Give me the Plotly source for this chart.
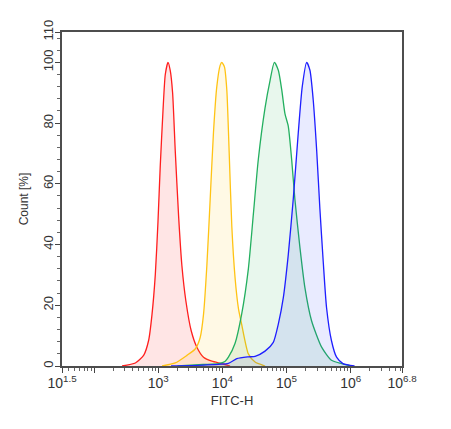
import plotly.graph_objects as go

# FITC-H histograms, counts normalised to the peak (%)
red_x = [273, 440, 592, 708, 800, 900, 991, 1076, 1186, 1288, 1419, 1538, 1675,
         1841, 2075, 2339, 2698, 3266, 4000, 5082, 6855, 9772, 13183]
red_y = [0, 1, 3.5, 8.4, 17, 30, 47.4, 66, 84, 96, 100, 97.4, 90,
         71, 49.6, 33, 21.4, 11.6, 6.2, 2.9, 1.6, 0.8, 0]

yellow_x = [1148, 1841, 2800, 3767, 4508, 5082, 5728, 6457, 7261, 8185, 9226, 9795,
            10765, 11722, 12735, 14028, 15776, 17783, 19953, 25410, 32359, 46238]
yellow_y = [0, 1, 3.5, 5.6, 9.4, 17, 33, 55, 76.8, 92, 99, 100,
            98.5, 91, 71, 46, 29, 19, 13.8, 4, 1.3, 0]

green_x = [1995, 5012, 8710, 10965, 12417, 15776, 19953, 25410, 30409, 36308, 46238,
           55335, 64565, 74473, 84140, 94624, 106414, 120226, 134896, 162181,
           193642, 245471, 352371, 501187, 724436, 1023293]
green_y = [0, 0.5, 0.8, 1.5, 2.9, 7.5, 17, 32, 50, 68, 85,
           94, 100, 97.4, 91, 83, 79, 68, 55, 38.8,
           25.7, 14.9, 6.2, 1.9, 0.8, 0]

blue_x = [1585, 5012, 12417, 16788, 25410, 32359, 46238, 62230, 74473, 89125, 106414,
          127350, 152405, 175792, 206063, 231739, 260615, 295121, 331131, 373250,
          420727, 501187, 602560, 758578, 1148154]
blue_y = [0, 0.3, 0.9, 2.4, 3, 3.2, 4.9, 7.8, 13.8, 22.5, 36.6,
          55, 76.8, 92, 100, 97.4, 87.6, 71, 51.8, 34.4,
          19.2, 8.4, 2.9, 0.8, 0]

x_tickvals = [10 ** 1.5, 100, 1000, 10000, 100000, 1000000, 10 ** 6.8]
x_ticktext = ["10<sup>1.5</sup>", "", "10<sup>3</sup>", "10<sup>4</sup>",
              "10<sup>5</sup>", "10<sup>6</sup>", "10<sup>6.8</sup>"]
x_minor = [m * 10 ** d for d in range(1, 7) for m in range(2, 10)
           if 10 ** 1.5 < m * 10 ** d < 10 ** 6.8]
y_tickvals = [0, 20, 40, 60, 80, 100, 110]

series = [
    (red_x, red_y, "rgb(255,30,30)", "rgba(255,0,0,0.1)"),
    (yellow_x, yellow_y, "rgb(255,195,20)", "rgba(255,192,0,0.1)"),
    (green_x, green_y, "rgb(35,175,95)", "rgba(30,180,80,0.1)"),
    (blue_x, blue_y, "rgb(30,30,255)", "rgba(40,60,255,0.1)"),
]

fig = go.Figure()
for xs, ys, col, fillcol in series:
    fig.add_trace(go.Scatter(
        x=xs, y=ys, mode="lines",
        line=dict(color=col, width=1.3, shape="spline", smoothing=0.6),
        fill="tozeroy", fillcolor=fillcol,
        showlegend=False, hoverinfo="skip",
    ))

base_font = dict(family="Liberation Sans, Arial, sans-serif", size=12, color="#333333")
xtick_font = dict(family="Liberation Sans, Arial, sans-serif", size=14, color="#333333")

# the page body adds an 8px offset, so margins are trimmed to match
fig.update_layout(
    width=435, height=410,
    margin=dict(l=54, r=41, t=23, b=48),
    plot_bgcolor="white", paper_bgcolor="white",
    font=base_font,
    xaxis=dict(
        type="log", range=[1.5, 6.8],
        tickmode="array", tickvals=x_tickvals, ticktext=x_ticktext,
        ticks="outside", ticklen=5, tickwidth=1, tickcolor="#444444",
        minor=dict(tickmode="array", tickvals=x_minor, ticks="outside",
                   ticklen=3, tickwidth=1, tickcolor="#666666"),
        showgrid=False, zeroline=False,
        showline=True, linecolor="#4d4d4d", linewidth=1.5, mirror=True,
        title=dict(text="FITC-H", standoff=6, font=dict(base_font, size=13)),
        tickfont=xtick_font, ticklabelstandoff=-2,
    ),
    yaxis=dict(
        range=[0, 110],
        tickmode="array", tickvals=y_tickvals,
        tickangle=-90,
        ticks="outside", ticklen=5, tickwidth=1, tickcolor="#444444",
        minor=dict(tickmode="linear", tick0=0, dtick=4, ticks="outside",
                   ticklen=3, tickwidth=1, tickcolor="#666666"),
        showgrid=False, zeroline=False,
        showline=True, linecolor="#4d4d4d", linewidth=1.5, mirror=True,
        title=dict(text="Count [%]", standoff=10, font=base_font),
        tickfont=dict(base_font, size=13), ticklabelstandoff=-3,
    ),
)

fig.write_html("out.html")
